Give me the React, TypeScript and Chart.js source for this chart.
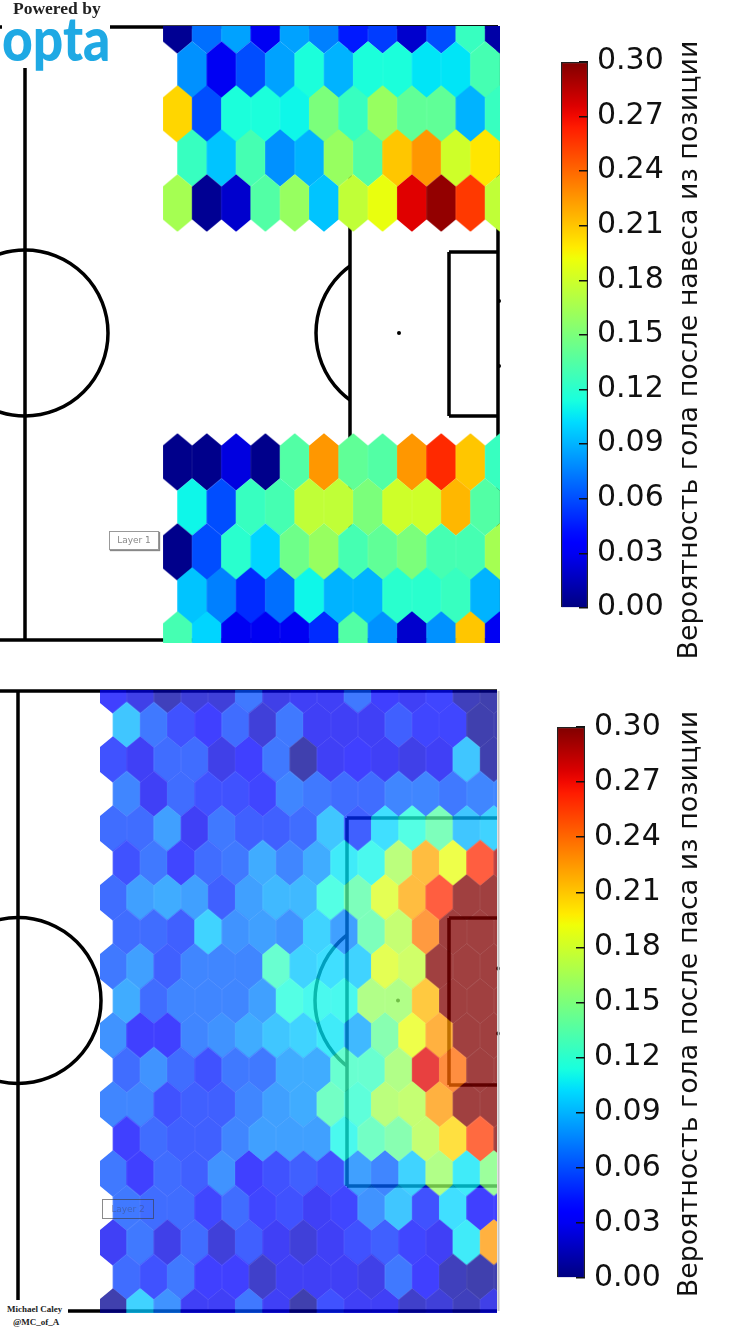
import React, { useEffect, useRef } from "react";
import { Chart, registerables } from "chart.js";

Chart.register(...registerables);

const tickLabels = ["0.00", "0.03", "0.06", "0.09", "0.12", "0.15", "0.18", "0.21", "0.24", "0.27", "0.30"];
const crossTitle = "Вероятность гола после навеса из позиции";
const passTitle = "Вероятность гола после паса из позиции";

const crossRowY = [25, 70, 114, 158, 203, 462, 507, 552, 596, 640];
const crossRowShift = [0, 0.5, 0, 0.5, 0, 0, 0.5, 0, 0.5, 0];
const crossValues = [
  [0.005, 0.07, 0.085, 0.03, 0.085, 0.075, 0.045, 0.055, 0.02, 0.06, 0.125, 0.01],
  [0.08, 0.03, 0.06, 0.085, 0.115, 0.09, 0.115, 0.115, 0.105, 0.105, 0.13],
  [0.205, 0.06, 0.115, 0.115, 0.11, 0.15, 0.125, 0.16, 0.14, 0.14, 0.09, 0.125],
  [0.125, 0.095, 0.13, 0.08, 0.09, 0.16, 0.135, 0.21, 0.225, 0.18, 0.2],
  [0.165, 0.005, 0.02, 0.135, 0.16, 0.095, 0.175, 0.19, 0.275, 0.295, 0.255, 0.175],
  [0.003, 0.003, 0.025, 0.003, 0.135, 0.225, 0.14, 0.135, 0.225, 0.26, 0.21, 0.125],
  [0.11, 0.06, 0.125, 0.13, 0.175, 0.175, 0.15, 0.18, 0.18, 0.215, 0.135],
  [0.003, 0.06, 0.12, 0.1, 0.145, 0.16, 0.13, 0.14, 0.15, 0.13, 0.13, 0.165],
  [0.095, 0.075, 0.05, 0.07, 0.11, 0.09, 0.09, 0.12, 0.12, 0.125, 0.09],
  [0.13, 0.1, 0.03, 0.03, 0.03, 0.05, 0.135, 0.08, 0.02, 0.08, 0.21, 0.03],
];

const passValues = [
  [0.035, 0.025, 0.01, 0.02, 0.02, 0.06, 0.025, 0.03, 0.03, 0.06, 0.035, 0.03, 0.04, 0.01, 0.005],
  [0.09, 0.06, 0.045, 0.035, 0.055, 0.02, 0.06, 0.03, 0.03, 0.03, 0.05, 0.04, 0.04, 0.005, 0.005],
  [0.045, 0.03, 0.055, 0.055, 0.025, 0.035, 0.06, 0.005, 0.03, 0.035, 0.03, 0.025, 0.03, 0.09, 0.005],
  [0.065, 0.03, 0.055, 0.045, 0.045, 0.04, 0.065, 0.06, 0.055, 0.055, 0.065, 0.065, 0.06, 0.065, 0.065],
  [0.055, 0.055, 0.075, 0.03, 0.06, 0.05, 0.05, 0.055, 0.09, 0.05, 0.1, 0.115, 0.135, 0.09, 0.095],
  [0.045, 0.06, 0.04, 0.055, 0.06, 0.08, 0.065, 0.08, 0.105, 0.11, 0.165, 0.22, 0.19, 0.26, 0.29],
  [0.055, 0.075, 0.08, 0.075, 0.05, 0.075, 0.085, 0.085, 0.115, 0.135, 0.185, 0.22, 0.26, 0.3, 0.3],
  [0.055, 0.055, 0.05, 0.095, 0.07, 0.075, 0.07, 0.095, 0.075, 0.135, 0.17, 0.235, 0.3, 0.3, 0.3],
  [0.06, 0.075, 0.05, 0.065, 0.065, 0.065, 0.125, 0.095, 0.1, 0.095, 0.185, 0.175, 0.3, 0.3, 0.3],
  [0.08, 0.055, 0.065, 0.065, 0.065, 0.075, 0.115, 0.11, 0.11, 0.16, 0.16, 0.215, 0.3, 0.3, 0.3],
  [0.07, 0.035, 0.035, 0.065, 0.07, 0.08, 0.09, 0.095, 0.105, 0.085, 0.14, 0.19, 0.225, 0.3, 0.3],
  [0.055, 0.07, 0.055, 0.045, 0.06, 0.06, 0.08, 0.08, 0.125, 0.125, 0.16, 0.275, 0.24, 0.3, 0.3],
  [0.065, 0.065, 0.045, 0.05, 0.05, 0.065, 0.075, 0.08, 0.13, 0.12, 0.165, 0.17, 0.225, 0.3, 0.3],
  [0.035, 0.055, 0.05, 0.05, 0.065, 0.075, 0.075, 0.075, 0.11, 0.13, 0.14, 0.17, 0.205, 0.255, 0.3],
  [0.06, 0.035, 0.055, 0.05, 0.07, 0.035, 0.045, 0.05, 0.045, 0.075, 0.065, 0.095, 0.16, 0.105, 0.15],
  [0.06, 0.055, 0.055, 0.04, 0.055, 0.04, 0.045, 0.03, 0.04, 0.07, 0.09, 0.045, 0.1, 0.035, 0.035],
  [0.03, 0.06, 0.025, 0.055, 0.02, 0.05, 0.03, 0.02, 0.03, 0.045, 0.05, 0.04, 0.03, 0.105, 0.225],
  [0.055, 0.045, 0.06, 0.035, 0.035, 0.015, 0.03, 0.03, 0.03, 0.025, 0.06, 0.035, 0.01, 0.005, 0.005],
  [0.005, 0.095, 0.07, 0.03, 0.03, 0.06, 0.03, 0.005, 0.045, 0.03, 0.03, 0.015, 0.02, 0.01, 0.025],
];

function interp(t: number, pts: number[][]) {
  for (let i = 1; i < pts.length; i++) {
    if (t <= pts[i][0]) {
      const [a, va] = pts[i - 1];
      const [b, vb] = pts[i];
      return va + ((t - a) / (b - a)) * (vb - va);
    }
  }
  return pts[pts.length - 1][1];
}

function jet(t: number) {
  const r = interp(t, [[0, 0], [0.35, 0], [0.66, 1], [0.89, 1], [1, 0.5]]);
  const g = interp(t, [[0, 0], [0.125, 0], [0.375, 1], [0.64, 1], [0.91, 0], [1, 0]]);
  const b = interp(t, [[0, 0.5], [0.11, 1], [0.34, 1], [0.65, 0], [1, 0]]);
  return `rgb(${Math.round(r * 255)},${Math.round(g * 255)},${Math.round(b * 255)})`;
}

function hexImage(color: string, w: number, h: number, tip: number) {
  const c = document.createElement("canvas");
  c.width = Math.ceil(w) + 2;
  c.height = Math.ceil(h) + 2;
  const g = c.getContext("2d")!;
  const cx = c.width / 2;
  const cy = c.height / 2;
  g.fillStyle = color;
  g.beginPath();
  g.moveTo(cx, cy - h / 2);
  g.lineTo(cx + w / 2, cy - h / 2 + tip);
  g.lineTo(cx + w / 2, cy + h / 2 - tip);
  g.lineTo(cx, cy + h / 2);
  g.lineTo(cx - w / 2, cy + h / 2 - tip);
  g.lineTo(cx - w / 2, cy - h / 2 + tip);
  g.closePath();
  g.fill();
  return c;
}

type Seg = { x: number; y: number }[];

function lineSet(data: Seg, width: number, color = "#000") {
  return { type: "scatter", data, showLine: true, borderColor: color, borderWidth: width, pointRadius: 0, tension: 0 };
}

function hexSet(
  values: number[][],
  rowY: number[],
  shift: (r: number) => number,
  x0: number,
  stepX: number,
  w: number,
  h: number,
  tip: number,
  clip: any
) {
  const data: any[] = [];
  values.forEach((row, r) => row.forEach((v, c) => data.push({ x: x0 + stepX * (c + shift(r)), y: rowY[r], v })));
  const cache: Record<string, HTMLCanvasElement> = {};
  return {
    type: "scatter",
    data,
    clip,
    pointRadius: 15,
    pointBorderWidth: 0,
    pointStyle: (ctx: any) => {
      if (!ctx.raw) return "circle";
      const col = jet(ctx.raw.v / 0.3);
      return cache[col] || (cache[col] = hexImage(col, w, h, tip));
    },
  };
}

function scatterConfig(datasets: any[], yMin: number, yMax: number) {
  return {
    type: "scatter",
    data: { datasets },
    options: {
      animation: false,
      responsive: false,
      events: [],
      layout: { padding: 0, autoPadding: false },
      plugins: { legend: { display: false }, tooltip: { enabled: false } },
      scales: {
        x: { type: "linear", min: 0, max: 510, display: false },
        y: { type: "linear", min: yMin, max: yMax, reverse: true, display: false },
      },
    },
  };
}

function pitchSets(p: any) {
  const LW = 3.5;
  return [
    lineSet([{ x: 0, y: p.top }, { x: p.right, y: p.top }], LW),
    lineSet([{ x: 0, y: p.bottom }, { x: p.right, y: p.bottom }], LW),
    lineSet([{ x: p.half, y: p.halfTop }, { x: p.half, y: p.halfBottom }], LW),
    lineSet([{ x: p.boxL, y: p.boxT }, { x: p.boxL, y: p.boxB }], LW),
    lineSet([{ x: p.boxL, y: p.boxT }, { x: p.right, y: p.boxT }], LW),
    lineSet([{ x: p.boxL, y: p.boxB }, { x: p.right, y: p.boxB }], LW),
    lineSet([{ x: p.rightX, y: p.top }, { x: p.rightX, y: p.bottom }], p.rightW, p.rightColor),
    lineSet([{ x: p.sixL, y: p.sixT }, { x: p.right, y: p.sixT }], LW),
    lineSet([{ x: p.sixL, y: p.sixB }, { x: p.right, y: p.sixB }], LW),
    lineSet([{ x: p.sixL, y: p.sixT }, { x: p.sixL, y: p.sixB }], LW),
    {
      type: "scatter",
      data: [{ x: p.half, y: p.midY }],
      pointStyle: "circle",
      pointRadius: 83,
      pointBackgroundColor: "rgba(0,0,0,0)",
      pointBorderColor: "#000",
      pointBorderWidth: LW,
    },
    {
      type: "scatter",
      data: [{ x: p.spot, y: p.midY }],
      pointStyle: "circle",
      pointRadius: 83,
      pointBackgroundColor: "rgba(0,0,0,0)",
      pointBorderColor: "#000",
      pointBorderWidth: LW,
      clip: { left: 0, top: 0, bottom: 0, right: -(510 - p.boxL) },
    },
    {
      type: "scatter",
      data: [{ x: p.spot, y: p.midY }, { x: p.right + 1, y: p.midY - 32 }, { x: p.right + 1, y: p.midY + 33 }],
      pointRadius: 2,
      pointBackgroundColor: "#000",
      pointBorderWidth: 0,
    },
  ];
}

function barConfig(
  title: string,
  canvasW: number,
  canvasH: number,
  barTop: number,
  barBottom: number,
  barW: number,
  labelOff: number,
  titleX: number,
  titleY: number
) {
  return {
    type: "bar",
    data: {
      labels: ["colorbar"],
      datasets: [
        {
          data: [0.3],
          barPercentage: 1,
          categoryPercentage: 1,
          borderWidth: 1.5,
          borderColor: "#222",
          backgroundColor: (ctx: any) => {
            const a = ctx.chart.chartArea;
            if (!a) return "#000";
            const g = ctx.chart.ctx.createLinearGradient(0, a.bottom, 0, a.top);
            for (let i = 0; i <= 50; i++) g.addColorStop(i / 50, jet(i / 50));
            return g;
          },
        },
      ],
    },
    options: {
      animation: false,
      responsive: false,
      events: [],
      layout: { autoPadding: false, padding: { left: 10, top: barTop, bottom: canvasH - barBottom, right: 0 } },
      plugins: { legend: { display: false }, tooltip: { enabled: false } },
      scales: {
        x: { display: false },
        y: {
          position: "right",
          min: 0,
          max: 0.3,
          afterFit: (s: any) => {
            s.width = canvasW - 10 - barW;
          },
          border: { display: false },
          grid: { drawOnChartArea: false, drawTicks: true, tickLength: -9, color: "#111", lineWidth: 1.5, z: 2 },
          ticks: {
            stepSize: 0.03,
            padding: 18,
            labelOffset: labelOff,
            color: "#111",
            font: { family: "'DejaVu Sans'", size: 30 },
            callback: (_: any, i: number) => tickLabels[i],
          },
        },
      },
    },
    plugins: [
      {
        id: "rotatedTitle",
        afterDraw(chart: any) {
          const ctx = chart.ctx;
          ctx.save();
          ctx.translate(titleX, titleY);
          ctx.rotate(-Math.PI / 2);
          ctx.font = "26.9px 'DejaVu Sans'";
          ctx.fillStyle = "#111";
          ctx.textAlign = "center";
          ctx.textBaseline = "middle";
          ctx.fillText(title, 0, 0);
          ctx.restore();
        },
      },
    ],
  };
}

function ChartBox({ left, top, width, height, opacity, make }: any) {
  const ref = useRef<HTMLCanvasElement>(null);
  useEffect(() => {
    const chart = new Chart(ref.current as any, make());
    return () => chart.destroy();
  }, []);
  return <canvas ref={ref} width={width} height={height} style={{ position: "absolute", left, top, width, height, opacity }} />;
}

const crossPitch = {
  top: 27, bottom: 640, right: 498, rightX: 498, rightW: 3.5, rightColor: "#000", half: 25, halfTop: 27, halfBottom: 640,
  midY: 333, boxL: 350, boxT: 27, boxB: 640, sixL: 449, sixT: 252, sixB: 416, spot: 399,
};

const passPitch = {
  top: 691, bottom: 1311, right: 497, rightX: 498.5, rightW: 2, rightColor: "#c4c4c4", half: 18, halfTop: 691, halfBottom: 1300,
  midY: 1000.5, boxL: 347, boxT: 818, boxB: 1186, sixL: 449, sixT: 918, sixB: 1085, spot: 398,
};

const passRowY = passValues.map((_, i) => 690.5 + 34.5 * i);

const abs = (left: number, top: number): React.CSSProperties => ({ position: "absolute", left, top, whiteSpace: "nowrap" });

export default function App() {
  return (
    <div style={{ position: "absolute", left: 0, top: 0, width: 730, height: 1338, overflow: "hidden", background: "#fff", filter: "blur(0.45px)" }}>
      <style>{"body{margin:0;background:#fff}"}</style>
      <ChartBox
        left={0}
        top={0}
        width={510}
        height={660}
        make={() =>
          scatterConfig(
            [
              hexSet(crossValues, crossRowY, (r) => crossRowShift[r], 177.5, 29.3, 29.8, 57.6, 12.5, { left: -163, right: -10, top: -26, bottom: -17 }),
              ...pitchSets(crossPitch),
            ],
            0,
            660
          )
        }
      />
      <ChartBox left={0} top={660} width={510} height={678} make={() => scatterConfig(pitchSets(passPitch), 660, 1338)} />
      <ChartBox
        left={0}
        top={660}
        width={510}
        height={678}
        opacity={0.75}
        make={() =>
          scatterConfig(
            [hexSet(passValues, passRowY, (r) => (r % 2 ? 0.5 : 0), 113, 27.2, 27.8, 46.6, 11.5, { left: -100, right: -13, top: -30, bottom: -25 })],
            660,
            1338
          )
        }
      />
      <ChartBox left={551} top={0} width={179} height={670} make={() => barConfig(crossTitle, 179, 670, 62, 608, 27, -0.5, 139, 350)} />
      <ChartBox left={547} top={666} width={183} height={672} make={() => barConfig(passTitle, 183, 672, 61, 612, 28, 0, 143, 338)} />

      <div style={{ ...abs(2, 22), width: 108, height: 46, background: "#fff" }} />
      <div style={{ ...abs(13, -2), font: "bold 17.5px 'Liberation Serif'", color: "#222" }}>Powered by</div>
      <div
        style={{
          ...abs(2, 8),
          font: "900 60px Lato",
          color: "#1fa9e4",
          lineHeight: "60px",
          transform: "scaleX(0.89)",
          transformOrigin: "0 0",
        }}
      >
        opta
      </div>
      <div style={{ ...abs(109, 531), width: 48, height: 17, border: "1px solid #999", boxShadow: "1px 1px 1px #888", background: "#fff", font: "9px 'DejaVu Sans'", color: "#888", textAlign: "center", lineHeight: "17px" }}>
        Layer 1
      </div>
      <div style={{ ...abs(102, 1199), width: 50, height: 18, border: "1px solid rgba(60,60,60,.6)", font: "9px 'DejaVu Sans'", color: "rgba(60,60,60,.35)", textAlign: "center", lineHeight: "18px" }}>
        Layer 2
      </div>
      <div style={{ ...abs(0, 1302), width: 68, height: 26, background: "#fff" }} />
      <div style={{ ...abs(7, 1304), font: "bold 9px 'Liberation Serif'", color: "#222" }}>Michael Caley</div>
      <div style={{ ...abs(13, 1317), font: "bold 9px 'Liberation Serif'", color: "#222" }}>@MC_of_A</div>
    </div>
  );
}
